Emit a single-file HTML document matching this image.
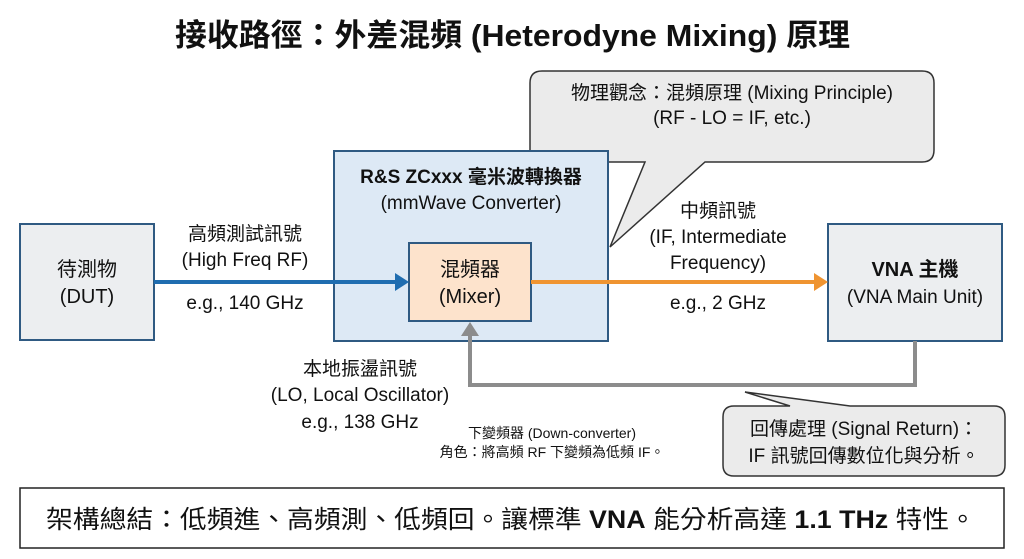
<!DOCTYPE html>
<html><head><meta charset="utf-8"><style>
body{margin:0;background:#fff;}
svg{display:block;font-family:"Liberation Sans","Noto Sans CJK TC",sans-serif;}
</style></head><body>
<svg width="1024" height="559" viewBox="0 0 1024 559" xmlns="http://www.w3.org/2000/svg">
<rect width="1024" height="559" fill="#fff"/>
<text x="175" y="46" font-size="31" font-weight="bold" fill="#111" textLength="675" lengthAdjust="spacingAndGlyphs">接收路徑：外差混頻 (Heterodyne  Mixing) 原理</text>

<!-- top callout -->
<path d="M542,71 H922 Q934,71 934,83 V150 Q934,162 922,162 H705 L610,247 L645,162 H542 Q530,162 530,150 V83 Q530,71 542,71 Z" fill="#ebebeb" stroke="#333" stroke-width="1.5"/>
<text x="732" y="99" text-anchor="middle" font-size="19" fill="#111">物理觀念：混頻原理 (Mixing Principle)</text>
<text x="732" y="124" text-anchor="middle" font-size="19" fill="#111">(RF - LO = IF, etc.)</text>

<!-- DUT -->
<rect x="20" y="224" width="134" height="116" fill="#eceef0" stroke="#2f5a82" stroke-width="2"/>
<text x="87" y="276" text-anchor="middle" font-size="20" fill="#111">待測物</text>
<text x="87" y="303" text-anchor="middle" font-size="20" fill="#111">(DUT)</text>

<!-- converter -->
<rect x="334" y="151" width="274" height="190" fill="#dde9f5" stroke="#2f5a82" stroke-width="2"/>
<text x="471" y="183" text-anchor="middle" font-size="19" font-weight="bold" fill="#111">R&amp;S ZCxxx 毫米波轉換器</text>
<text x="471" y="209" text-anchor="middle" font-size="19" fill="#111">(mmWave Converter)</text>
<rect x="409" y="243" width="122" height="78" fill="#fde3cc" stroke="#2f5a82" stroke-width="2"/>
<text x="470" y="276" text-anchor="middle" font-size="20" fill="#111">混頻器</text>
<text x="470" y="303" text-anchor="middle" font-size="20" fill="#111">(Mixer)</text>

<!-- VNA -->
<rect x="828" y="224" width="174" height="117" fill="#eceef0" stroke="#2f5a82" stroke-width="2"/>
<text x="915" y="276" text-anchor="middle" font-size="20" font-weight="bold" fill="#111">VNA 主機</text>
<text x="915" y="303" text-anchor="middle" font-size="19" fill="#111">(VNA Main Unit)</text>

<!-- RF arrow -->
<line x1="154" y1="282" x2="396" y2="282" stroke="#1f6db0" stroke-width="4"/>
<polygon points="395,273 409,282 395,291" fill="#1f6db0"/>
<text x="245" y="240" text-anchor="middle" font-size="19" fill="#111">高頻測試訊號</text>
<text x="245" y="266" text-anchor="middle" font-size="19" fill="#111">(High Freq RF)</text>
<text x="245" y="309" text-anchor="middle" font-size="19" fill="#111">e.g., 140 GHz</text>

<!-- IF arrow -->
<line x1="531" y1="282" x2="815" y2="282" stroke="#ef9431" stroke-width="4"/>
<polygon points="814,273 828,282 814,291" fill="#ef9431"/>
<text x="718" y="217" text-anchor="middle" font-size="19" fill="#111">中頻訊號</text>
<text x="718" y="243" text-anchor="middle" font-size="19" fill="#111">(IF, Intermediate</text>
<text x="718" y="269" text-anchor="middle" font-size="19" fill="#111">Frequency)</text>
<text x="718" y="309" text-anchor="middle" font-size="19" fill="#111">e.g., 2 GHz</text>

<!-- LO return path -->
<polyline points="915,341 915,385 470,385 470,334" fill="none" stroke="#8c8c8c" stroke-width="4"/>
<polygon points="461,336 470,322 479,336" fill="#8c8c8c"/>
<text x="360" y="375" text-anchor="middle" font-size="19" fill="#111">本地振盪訊號</text>
<text x="360" y="401" text-anchor="middle" font-size="19" fill="#111">(LO, Local Oscillator)</text>
<text x="360" y="428" text-anchor="middle" font-size="19" fill="#111">e.g., 138 GHz</text>

<text x="552" y="438" text-anchor="middle" font-size="14" fill="#111">下變頻器 (Down-converter)</text>
<text x="552" y="457" text-anchor="middle" font-size="14" fill="#111">角色：將高頻 RF 下變頻為低頻 IF。</text>

<!-- bottom callout -->
<path d="M734,406 H790 L745,392 L850,406 H994 Q1005,406 1005,417 V465 Q1005,476 994,476 H734 Q723,476 723,465 V417 Q723,406 734,406 Z" fill="#ebebeb" stroke="#333" stroke-width="1.5"/>
<text x="864" y="435" text-anchor="middle" font-size="19" fill="#111">回傳處理 (Signal Return)：</text>
<text x="864" y="462" text-anchor="middle" font-size="19" fill="#111">IF 訊號回傳數位化與分析。</text>

<!-- summary -->
<rect x="20" y="488" width="984" height="60" fill="#fff" stroke="#222" stroke-width="1.5"/>
<text x="46" y="528" font-size="25" fill="#111" textLength="930" lengthAdjust="spacingAndGlyphs">架構總結：低頻進、高頻測、低頻回。讓標準 <tspan font-weight="bold">VNA</tspan> 能分析高達 <tspan font-weight="bold">1.1 THz</tspan> 特性。</text>
</svg>
</body></html>
